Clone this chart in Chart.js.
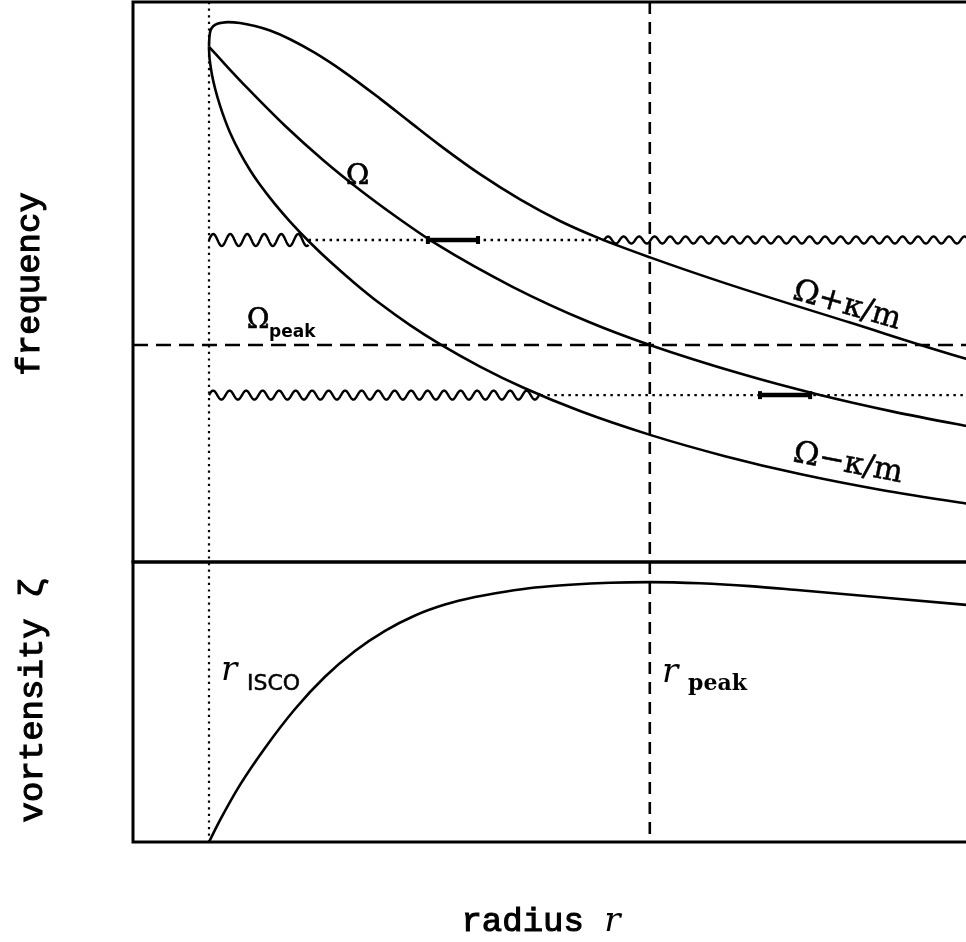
<!DOCTYPE html>
<html>
<head>
<meta charset="utf-8">
<script src="https://cdn.jsdelivr.net/npm/chart.js@4/dist/chart.umd.min.js"></script>
<style>
  html, body { margin: 0; padding: 0; background: #fff; overflow: hidden; }
  #wrap { width: 966px; height: 942px; overflow: hidden; }
</style>
</head>
<body>
<div id="wrap"><canvas id="diskChart" width="1010" height="942"></canvas></div>
<script>
// radius in units of r_ISCO, frequencies in arbitrary units
var rIsco = 1.0;
var rPeak = 6.8;
var rMax = 11.5;
var omegaPeak = 38.75;

// orbital frequency
var omegaR    = [1.0, 1.25, 1.5, 2.0, 2.5, 3.0, 3.5, 4.0, 5.0, 6.0, 6.8, 8.0, 9.0, 10.0, 11.0, 11.5];
var omegaVals = [92.0, 88.3, 84.7, 77.9, 71.8, 66.3, 61.3, 56.7, 49.1, 42.85, 38.75, 33.6, 29.95, 26.85, 24.2, 22.95];

// Omega + kappa/m
var plusR    = [1.0, 1.003, 1.013, 1.039, 1.092, 1.171, 1.25, 1.408, 1.605, 1.803, 2.066, 2.395, 2.789, 3.25, 3.645, 4.039, 4.566, 5.092, 5.618, 6.145, 6.803, 7.789, 9.434, 10.961, 11.5];
var plusVals = [92.0, 93.2, 94.5, 95.4, 96.0, 96.3, 96.4, 96.25, 95.7, 94.9, 93.35, 90.9, 87.4, 82.75, 78.55, 74.4, 69.25, 64.75, 60.9, 57.75, 54.4, 49.8, 42.75, 36.3, 34.4];

// Omega - kappa/m
var minusR    = [1.0, 1.004, 1.013, 1.039, 1.079, 1.145, 1.211, 1.276, 1.408, 1.539, 1.671, 1.868, 2.066, 2.329, 2.592, 2.921, 3.25, 3.645, 4.039, 4.566, 5.132, 5.882, 6.803, 7.789, 8.776, 9.829, 10.961, 11.5];
var minusVals = [92.0, 90.5, 89.3, 87.0, 84.6, 81.5, 78.9, 76.7, 73.05, 70.0, 67.35, 63.9, 60.8, 57.05, 53.65, 49.75, 46.15, 42.3, 38.9, 34.9, 31.15, 26.95, 22.7, 18.9, 15.7, 12.9, 10.45, 9.4];

// vortensity profile, peaks at rPeak
var vortR    = [1.0, 1.145, 1.408, 1.737, 2.132, 2.526, 2.921, 3.316, 3.711, 4.105, 4.5, 4.895, 5.289, 5.75, 6.276, 6.803, 7.461, 8.118, 8.776, 9.829, 10.961, 11.5];
var vortVals = [0.0, 3.9, 10.2, 16.8, 23.75, 29.5, 34.1, 37.7, 40.45, 42.4, 43.75, 44.7, 45.45, 45.95, 46.3, 46.4, 46.2, 45.7, 44.95, 43.7, 42.35, 41.7];

// two wave patterns: frequency, inner evanescent edge, outer propagation start, corotation bar
var patternFreq  = [57.5, 29.8];
var innerWaveEnd = [2.31, 5.36];
var outerWaveBeg = [6.2, null];
var barFrom      = [3.88, 8.25];
var barTo        = [4.54, 8.91];

function pts(xs, ys) {
  return xs.map(function (x, i) { return { x: x, y: ys[i] }; });
}

var datasets = [];

// corotation bars (drawn on top)
patternFreq.forEach(function (f, i) {
  datasets.push({
    data: [{ x: barFrom[i], y: f }, { x: barTo[i], y: f }],
    yAxisID: 'yf', borderColor: '#000', borderWidth: 4.5,
    pointRadius: 4, pointStyle: 'line', rotation: 90,
    pointBorderColor: '#000', pointBorderWidth: 4
  });
});

datasets.push({ data: pts(omegaR, omegaVals), yAxisID: 'yf', cubicInterpolationMode: 'monotone' });
datasets.push({ data: pts(plusR, plusVals), yAxisID: 'yf', cubicInterpolationMode: 'monotone' });
datasets.push({ data: pts(minusR, minusVals), yAxisID: 'yf', cubicInterpolationMode: 'monotone' });
datasets.push({ data: pts(vortR, vortVals), yAxisID: 'yv', cubicInterpolationMode: 'monotone' });

// Omega_peak level
datasets.push({
  data: [{ x: 0, y: omegaPeak }, { x: rMax, y: omegaPeak }],
  yAxisID: 'yf', borderDash: [15, 8], borderWidth: 2.4
});

// dotted stretches between the wave zones
patternFreq.forEach(function (f, i) {
  var end = outerWaveBeg[i] !== null ? outerWaveBeg[i] : rMax;
  datasets.push({
    data: [{ x: innerWaveEnd[i], y: f }, { x: end, y: f }],
    yAxisID: 'yf', borderDash: [2.5, 4.5], borderWidth: 2.4
  });
});

function wave(ctx, x0, x1, y, amp, period) {
  ctx.beginPath();
  for (var px = x0; px <= x1; px += 0.5) {
    var yy = y - amp * Math.sin(2 * Math.PI * (px - x0) / period);
    if (px === x0) ctx.moveTo(px, yy); else ctx.lineTo(px, yy);
  }
  ctx.stroke();
}

var decor = {
  id: 'decor',
  beforeDatasetsDraw: function (chart) {
    var ctx = chart.ctx, a = chart.chartArea;
    var xs = chart.scales.x, yf = chart.scales.yf;
    ctx.save();
    ctx.strokeStyle = '#000';
    ctx.lineCap = 'butt';
    // r_ISCO dotted, r_peak dashed
    ctx.lineWidth = 2.2;
    ctx.setLineDash([2.2, 4.4]);
    var xi = xs.getPixelForValue(rIsco);
    ctx.beginPath(); ctx.moveTo(xi, a.top); ctx.lineTo(xi, a.bottom); ctx.stroke();
    ctx.lineWidth = 2.6;
    ctx.setLineDash([12, 8]);
    var xp = xs.getPixelForValue(rPeak);
    ctx.beginPath(); ctx.moveTo(xp, a.top); ctx.lineTo(xp, a.bottom); ctx.stroke();
    ctx.setLineDash([]);
    // wave zones
    ctx.lineWidth = 2.4;
    ctx.lineJoin = 'round';
    var y0 = yf.getPixelForValue(patternFreq[0]);
    wave(ctx, xi, xs.getPixelForValue(innerWaveEnd[0]), y0, 6, 17);
    wave(ctx, xs.getPixelForValue(outerWaveBeg[0]), a.right, y0, 3.5, 15.5);
    var y1 = yf.getPixelForValue(patternFreq[1]);
    wave(ctx, xi, xs.getPixelForValue(innerWaveEnd[1]), y1, 4.5, 16.5);
    ctx.restore();
  },
  afterDraw: function (chart) {
    var ctx = chart.ctx, a = chart.chartArea;
    var yf = chart.scales.yf, yv = chart.scales.yv;
    ctx.save();
    // panel frames
    ctx.strokeStyle = '#000';
    ctx.lineWidth = 3;
    ctx.strokeRect(a.left, yf.top, a.right - a.left + 10, yf.bottom - yf.top);
    ctx.strokeRect(a.left, yv.top, a.right - a.left + 10, yv.bottom - yv.top);

    ctx.fillStyle = '#000';
    ctx.textBaseline = 'alphabetic';
    // fill plus a hairline stroke to thicken the glyphs a little
    function ink(s, x, y, heavy) {
      ctx.fillText(s, x, y);
      if (heavy) { ctx.lineWidth = heavy; ctx.strokeText(s, x, y); }
    }
    function txt(s, x, y, font, heavy) { ctx.font = font; ink(s, x, y, heavy); return ctx.measureText(s).width; }
    function turned(s, x, y, deg, font, heavy) {
      ctx.save();
      ctx.translate(x, y);
      ctx.rotate(deg * Math.PI / 180);
      ctx.textAlign = 'center';
      ctx.textBaseline = 'middle';
      ctx.font = font;
      ink(s, 0, 0, heavy);
      ctx.restore();
    }

    var serif = '"DejaVu Serif"';
    var mono = '34px "Liberation Mono"';
    // axis titles
    turned('frequency', 30, 284, -90, mono, 1.1);
    turned('vortensity ζ', 33, 700, -90, mono, 1.1);

    ctx.font = mono;
    var w1 = ctx.measureText('radius ').width;
    ctx.font = 'italic 34px ' + serif;
    var w2 = ctx.measureText('r').width;
    var xStart = 541 - (w1 + w2) / 2;
    txt('radius ', xStart, 931, mono, 1.1);
    txt('r', xStart + w1, 931, 'italic 34px ' + serif);

    // curve labels
    txt('Ω', 346, 184, '28px ' + serif, 0.7);
    txt('Ω', 247, 328, '27px ' + serif, 0.7);
    txt('peak', 269, 337, 'bold 17px "DejaVu Sans"');

    turned('Ω+κ/m', 847, 306, 16, '31px ' + serif, 0.5);
    turned('Ω−κ/m', 848, 464, 11, '31px ' + serif, 0.5);

    txt('r', 221, 680, 'italic 34px ' + serif);
    txt('ISCO', 247, 690, '22px "DejaVu Sans"', 0.5);
    txt('r', 662, 682, 'italic 34px ' + serif);
    txt('peak', 688, 690, 'bold 22px ' + serif);
    ctx.restore();
  }
};

var ctx = document.getElementById('diskChart').getContext('2d');
var diskChart = new Chart(ctx, {
  type: 'line',
  data: { datasets: datasets },
  options: {
    responsive: false,
    animation: false,
    layout: { autoPadding: false, padding: { left: 133, right: 3, top: 2, bottom: 100 } },
    plugins: { legend: { display: false }, tooltip: { enabled: false } },
    elements: {
      point: { radius: 0 },
      line: { borderColor: '#000', borderWidth: 2.6, fill: false }
    },
    scales: {
      x: { type: 'linear', min: 0, max: rMax, display: false },
      yv: { type: 'linear', min: 0, max: 50, display: false, stack: 'panels', stackWeight: 1 },
      yf: { type: 'linear', min: 0, max: 100, display: false, stack: 'panels', stackWeight: 2 }
    }
  },
  plugins: [decor]
});
</script>
</body>
</html>
